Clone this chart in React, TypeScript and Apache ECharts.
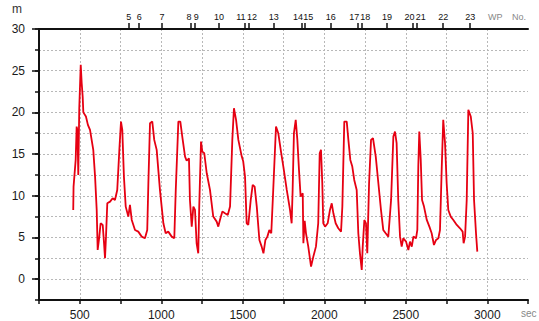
import React, { useEffect, useRef } from "react";
import * as echarts from "echarts";

// elapsed time (sec) and height (m)
const times = [
  460, 462, 475, 481, 486, 491, 497, 506, 512, 518, 522, 538, 550, 563, 583, 594, 604, 610, 620, 628,
  641, 649, 655, 661, 669, 686, 702, 716, 730, 743, 753, 761, 771, 782, 798, 808, 819, 839, 859, 880,
  900, 914, 921, 931, 945, 957, 972, 992, 1013, 1027, 1043, 1064, 1080, 1089, 1105, 1117, 1129, 1146, 1156, 1170,
  1176, 1187, 1197, 1207, 1217, 1227, 1233, 1244, 1252, 1264, 1279, 1299, 1319, 1340, 1350, 1360, 1375, 1391, 1408, 1422,
  1436, 1446, 1459, 1473, 1494, 1503, 1514, 1524, 1534, 1549, 1561, 1573, 1586, 1602, 1616, 1627, 1639, 1651, 1663, 1675,
  1687, 1704, 1718, 1733, 1749, 1770, 1790, 1800, 1806, 1814, 1825, 1835, 1845, 1855, 1868, 1872, 1880, 1888, 1902, 1919,
  1933, 1949, 1963, 1972, 1980, 1988, 1994, 2005, 2021, 2035, 2046, 2056, 2070, 2086, 2103, 2111, 2123, 2138, 2148, 2160,
  2172, 2184, 2199, 2209, 2219, 2230, 2236, 2246, 2256, 2264, 2275, 2287, 2299, 2316, 2332, 2348, 2362, 2377, 2393, 2410,
  2424, 2434, 2444, 2454, 2465, 2475, 2485, 2502, 2516, 2526, 2537, 2547, 2563, 2571, 2577, 2583, 2592, 2600, 2612, 2629,
  2645, 2659, 2673, 2686, 2700, 2710, 2721, 2730, 2741, 2751, 2761, 2776, 2792, 2813, 2833, 2849, 2855, 2864, 2874, 2884,
  2899, 2911, 2919, 2931, 2939,
];
const heights = [
  8.3, 11.1, 14.3, 18.3, 17.8, 12.5, 20.5, 25.7, 23.5, 21.9, 20.0, 19.5, 18.5, 17.9, 15.5, 12.3, 8.3, 3.5, 5.1, 6.7,
  6.5, 4.3, 2.5, 5.1, 9.1, 9.3, 9.7, 9.5, 10.7, 15.5, 18.9, 17.9, 12.3, 8.7, 7.5, 8.9, 7.1, 5.9, 5.7, 5.1,
  4.9, 5.9, 11.5, 18.7, 18.9, 16.7, 15.5, 10.7, 6.7, 5.5, 5.7, 5.1, 4.9, 10.7, 18.9, 18.9, 17.1, 14.7, 14.2, 14.5,
  9.5, 6.3, 8.7, 8.3, 4.3, 3.1, 8.7, 16.5, 15.3, 15.1, 12.7, 10.7, 7.5, 6.9, 6.3, 7.1, 8.1, 7.9, 7.7, 8.7,
  16.7, 20.5, 19.1, 16.7, 14.7, 14.1, 12.3, 6.7, 6.5, 9.5, 11.3, 11.1, 8.7, 4.7, 3.9, 3.1, 4.7, 5.1, 5.9, 5.5,
  10.7, 18.3, 17.5, 15.5, 13.5, 10.7, 8.3, 6.7, 10.7, 17.5, 19.1, 16.7, 13.1, 9.9, 10.3, 4.3, 7.0, 5.5, 3.9, 1.5,
  2.7, 3.9, 6.7, 15.1, 15.5, 11.5, 6.7, 6.3, 6.7, 8.3, 9.1, 7.9, 6.7, 6.1, 5.7, 8.7, 18.9, 18.9, 16.7, 14.3,
  13.5, 11.9, 10.7, 5.5, 3.1, 1.1, 3.9, 7.1, 6.7, 3.1, 11.5, 16.7, 16.9, 14.7, 11.5, 8.3, 5.9, 5.5, 5.1, 9.5,
  17.1, 17.7, 16.3, 9.5, 5.1, 3.9, 4.9, 4.5, 3.5, 4.5, 3.9, 5.1, 4.9, 5.9, 13.5, 17.7, 14.3, 9.5, 8.7, 7.1,
  6.3, 5.5, 4.1, 4.7, 4.9, 5.9, 13.5, 19.1, 16.3, 11.5, 8.3, 7.5, 7.1, 6.5, 6.1, 5.7, 4.3, 5.1, 9.5, 20.3,
  19.5, 17.5, 9.5, 5.5, 3.3,
];

// waypoints on top axis
const wpNames = ["5", "6", "7", "8", "9", "10", "11", "12", "13", "14", "15", "16", "17", "18", "19", "20", "21", "22", "23"];
const wpTimes = [800, 865, 1005, 1180, 1205, 1355, 1510, 1535, 1690, 1860, 1880, 2040, 2205, 2230, 2385, 2545, 2570, 2730, 2895];

const yMajorTicks = [0, 5, 10, 15, 20, 25, 30];

export default function App() {
  const ref = useRef<HTMLDivElement>(null);
  useEffect(() => {
    if (!ref.current) return;
    const chart = echarts.init(ref.current, undefined, { renderer: "svg" });
    const font = "Liberation Sans";
    const grid = "#b8b8b8";
    // label nudges for close waypoint pairs
    const nudge: Record<string, string> = {
      "8": "s1", "9": "s2", "11": "d1", "12": "d2", "14": "d1", "15": "d2",
      "17": "d1", "18": "d2", "20": "d1", "21": "d2",
    };
    const rs = { fontSize: 9, fontFamily: font, color: "#111" };
    chart.setOption({
      animation: false,
      backgroundColor: "#fff",
      grid: { left: 39, top: 29, right: 11, bottom: 21, containLabel: false },
      xAxis: [
        {
          type: "value",
          position: "bottom",
          min: 250,
          max: 3250,
          interval: 250,
          axisLine: { show: true, onZero: false, lineStyle: { color: "#111", width: 2 } },
          axisTick: { show: true, length: 4, lineStyle: { color: "#111", width: 1.5 } },
          axisLabel: {
            margin: 9,
            fontSize: 12,
            fontFamily: font,
            color: "#1a1a1a",
            formatter: (v: number) => (v % 500 === 0 && v < 3250 ? String(v) : ""),
          },
          splitLine: {
            show: true,
            showMinLine: false,
            showMaxLine: false,
            lineStyle: { color: grid, type: [2, 2], width: 1 },
          },
        },
        {
          type: "value",
          position: "top",
          min: 250,
          max: 3250,
          axisLine: { show: true, onZero: false, lineStyle: { color: "#111", width: 2 } },
          axisTick: { show: true, customValues: wpTimes, length: 6, lineStyle: { color: "#111", width: 1.5 } },
          axisLabel: {
            show: true,
            customValues: wpTimes,
            margin: 8,
            fontSize: 9,
            fontFamily: font,
            color: "#111",
            formatter: (v: number) => {
              const i = wpTimes.indexOf(v);
              const n = i >= 0 ? wpNames[i] : "";
              const k = nudge[n];
              return k ? "{" + k + "|" + n + "}" : n;
            },
            rich: {
              s1: { ...rs, padding: [0, 3, 0, 0] },
              s2: { ...rs, padding: [0, 0, 0, 3] },
              d1: { ...rs, padding: [0, 7, 0, 0] },
              d2: { ...rs, padding: [0, 0, 0, 7] },
            },
          },
          splitLine: { show: false },
        },
      ],
      yAxis: [
        {
          type: "value",
          min: -2.5,
          max: 30,
          interval: 2.5,
          axisLine: { show: true, onZero: false, lineStyle: { color: "#111", width: 2 } },
          axisTick: { show: true, length: 4, lineStyle: { color: "#111", width: 1.5 } },
          axisLabel: {
            margin: 14,
            fontSize: 12,
            fontFamily: font,
            color: "#1a1a1a",
            formatter: (v: number) => (v % 5 === 0 ? String(v) : ""),
          },
          splitLine: {
            show: true,
            showMinLine: false,
            showMaxLine: false,
            lineStyle: { color: grid, type: [2, 2], width: 1 },
          },
        },
        {
          type: "value",
          position: "left",
          min: -2.5,
          max: 30,
          axisLine: { show: false, onZero: false },
          axisTick: { show: true, customValues: yMajorTicks, length: 7, lineStyle: { color: "#111", width: 1.5 } },
          axisLabel: { show: false },
          splitLine: { show: false },
        },
      ],
      graphic: [
        { type: "text", left: 12, top: 3, style: { text: "m", font: "12px Liberation Sans", fill: "#333" } },
        { type: "text", left: 488, top: 12, style: { text: "WP", font: "9px Liberation Sans", fill: "#888" } },
        { type: "text", left: 512, top: 12, style: { text: "No.", font: "9px Liberation Sans", fill: "#888" } },
        { type: "text", left: 521, top: 308, style: { text: "sec", font: "10px Liberation Sans", fill: "#888" } },
      ],
      series: [
        {
          type: "line",
          xAxisIndex: 0,
          yAxisIndex: 0,
          data: times.map((t, i) => [t, heights[i]]),
          showSymbol: false,
          symbol: "none",
          lineStyle: { color: "#e60012", width: 1.8 },
        },
      ],
    });
    return () => chart.dispose();
  }, []);
  return <div ref={ref} style={{ width: 539, height: 321, position: "absolute", left: 0, top: 0 }} />;
}
